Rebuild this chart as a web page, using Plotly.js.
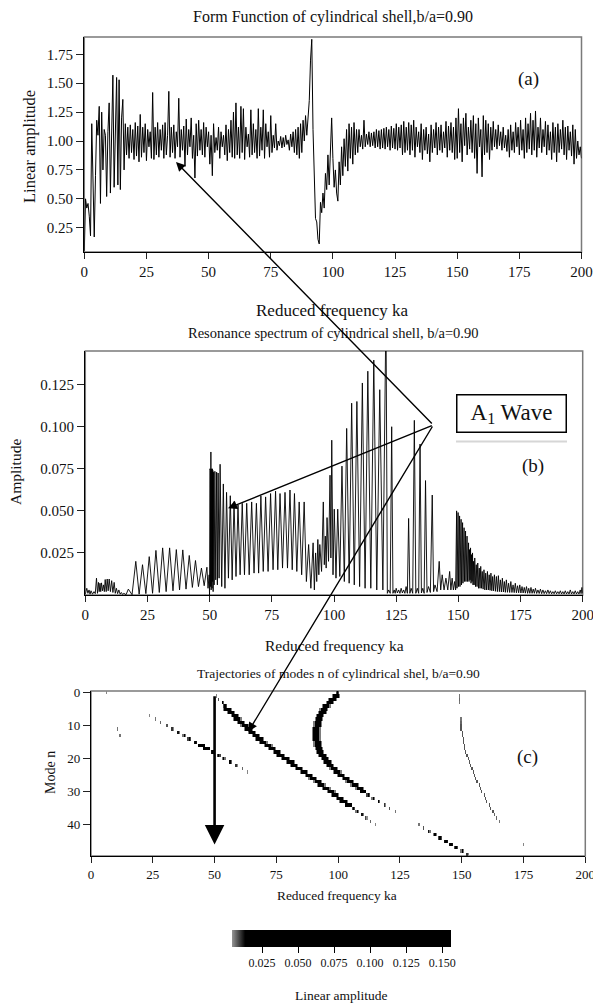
<!DOCTYPE html>
<html><head><meta charset="utf-8">
<script src="https://cdn.plot.ly/plotly-3.0.1.min.js"></script>
<style>html,body{margin:0;padding:0;background:#fff}#chart{width:593px;height:1003px}</style>
</head><body><div id="chart"></div>
<script>
// ---------- Panel (a): form function, sampled every 0.5 ka from 0 to 200 ----------
const formStep = 0.5;
const formAmp = [
0.05,0.50,0.42,0.46,0.35,0.18,1.15,0.55,0.17,0.70,1.18,1.05,1.30,0.46,1.25,0.75,1.10,1.05,0.52,1.08,
1.33,0.55,1.05,1.57,0.60,1.12,1.55,0.62,1.53,0.58,1.20,1.36,0.75,1.15,0.88,1.12,0.85,1.14,0.90,1.10,
0.84,1.16,0.87,1.13,0.82,1.23,0.86,1.12,0.90,1.15,0.83,1.10,0.95,1.08,0.85,1.42,0.84,1.12,0.88,1.16,
0.86,1.10,0.92,1.14,0.85,1.16,0.88,1.05,1.43,0.86,1.12,0.90,1.14,0.85,1.08,0.95,1.37,0.86,1.10,0.92,
1.13,0.78,1.19,0.88,1.10,0.95,1.20,0.85,1.05,0.68,1.15,0.87,1.18,0.92,1.10,0.88,1.16,0.86,1.12,0.95,
1.08,0.80,1.05,0.70,1.15,0.90,1.03,0.92,1.12,0.85,1.08,0.95,1.05,0.88,1.14,0.83,1.10,0.90,1.18,0.86,
1.25,0.85,1.33,0.88,1.12,0.85,1.30,0.90,1.28,0.84,1.12,0.95,1.06,0.86,1.27,0.88,1.15,0.90,1.10,0.85,
1.28,0.87,1.12,0.92,1.27,0.85,1.15,0.95,1.08,0.86,1.22,0.90,1.05,0.94,1.15,0.92,1.00,0.96,1.04,0.94,
1.03,0.95,1.05,0.97,1.01,0.92,1.06,0.95,1.08,0.90,1.10,0.88,1.12,0.85,1.15,0.90,1.18,1.00,1.22,1.05,
1.25,1.35,1.70,1.88,1.10,0.55,0.33,0.30,0.15,0.11,0.47,0.38,0.55,0.42,0.72,0.58,0.88,0.62,0.98,1.20,
0.85,0.60,0.75,0.55,0.48,0.82,0.62,0.95,0.70,1.02,0.78,1.10,0.74,1.15,0.85,1.12,0.80,1.16,0.88,1.10,
0.90,1.10,0.95,1.05,0.93,1.18,0.95,1.06,0.97,1.08,0.95,1.07,0.96,1.08,0.94,1.10,0.95,1.09,0.93,1.10,
0.94,1.11,0.93,1.12,0.95,1.10,0.92,1.13,0.94,1.11,0.93,1.15,0.92,1.12,0.94,1.14,0.88,1.17,0.90,1.12,
0.92,1.16,0.88,1.14,0.92,1.18,0.86,1.12,0.95,1.08,0.90,1.15,0.84,1.10,0.92,1.12,0.89,1.06,0.82,1.14,
0.90,1.10,0.94,1.16,0.88,1.12,0.92,1.14,0.90,1.08,0.94,1.17,0.86,1.13,0.92,1.16,0.90,1.12,0.84,1.20,
0.85,1.28,0.90,1.15,0.82,1.20,0.96,1.24,0.88,1.12,0.93,1.18,0.90,1.22,0.85,1.15,0.72,1.20,0.95,1.10,
0.69,1.22,0.88,1.18,0.90,1.15,0.84,1.12,0.92,1.17,0.95,1.10,0.93,1.14,0.96,1.08,0.92,1.12,0.94,1.05,
0.91,1.10,0.86,1.14,0.92,1.08,0.90,1.16,0.95,1.12,0.88,1.18,0.92,1.10,0.85,1.20,0.90,1.15,0.93,1.24,
0.88,1.18,0.92,1.26,0.86,1.12,0.94,1.20,0.90,1.10,0.95,1.17,0.88,1.14,0.92,1.08,0.84,1.16,0.90,1.12,
0.82,1.15,0.90,1.10,0.93,1.18,0.88,1.12,0.84,1.13,0.92,1.08,0.87,1.14,0.80,1.10,0.85,1.00,0.88,0.95,
0.85
];

// ---------- Panel (b): resonance spectrum peaks ----------
const specPeakKa = [
0.6,1.5,2.3,3.5,4.5,5.3,5.9,6.5,7.3,8.0,8.8,9.6,10.6,11.6,12.5,13.5,14.5,15.5,17.3,
20.3,23.0,25.7,28.4,31.1,33.9,36.6,39.2,41.8,44.3,46.7,48.9,
49.8,50.1,50.3,50.5,50.7,50.9,51.1,51.3,51.5,
52.1,52.8,53.4,54.2,55.5,56.8,58.3,59.8,61.4,63.1,64.9,66.9,68.8,70.6,72.5,74.5,76.5,78.3,80.3,82.3,84.1,86.0,88.0,
89.8,91.6,92.6,93.5,94.3,95.7,96.5,97.2,98.4,99.1,100.1,101.5,103.2,105.1,107.1,109.2,111.4,113.6,116.0,118.4,120.9,
122.0,123.2,124.2,125.0,126.0,127.0,128.0,129.0,130.0,131.0,132.3,133.5,134.6,135.7,136.8,138.0,139.5,140.6,142.3,143.5,145.0,146.5,147.5,
148.5,149.3,149.6,149.9,150.2,150.5,150.8,151.1,151.4,151.7,152.0,152.3,152.6,152.9,153.2,153.5,153.8,154.1,154.5,154.9,155.3,155.7,156.1,156.6,
157.2,157.8,158.4,159.0,159.6,160.3,161.0,161.7,162.4,163.1,163.8,164.5,165.3,166.1,166.9,167.7,168.5,169.3,170.2,171.1,172.0,172.9,173.8,174.7,
175.6,176.5,177.4,178.3,179.2,180.1,181,182,183,184,185,186,187,188,189,190,191,192,193,194,195,196,197,198,199,199.7
];
const specPeakAmp = [
0.004,0.003,0.0025,0.002,0.0100,0.0075,0.0070,0.0072,0.0060,0.0092,0.0095,0.0095,0.0085,0.0075,0.004,0.003,0.0015,0.001,0.0035,
0.020,0.018,0.0228,0.0265,0.028,0.028,0.027,0.0268,0.0235,0.0205,0.016,0.0165,
0.012,0.075,0.074,0.085,0.075,0.074,0.075,0.074,0.073,
0.0735,0.073,0.0725,0.0777,0.066,0.061,0.059,0.0555,0.0535,0.0545,0.0545,0.0553,0.0545,0.0589,0.0583,0.0603,0.0617,0.0603,0.061,0.0624,0.0603,0.0553,0.0553,
0.030,0.031,0.025,0.033,0.030,0.0553,0.035,0.046,0.0712,0.092,0.051,0.051,0.0766,0.099,0.114,0.115,0.126,0.133,0.1396,0.122,0.17,
0.003,0.100,0.003,0.004,0.003,0.004,0.003,0.005,0.0455,0.004,0.1038,0.004,0.0897,0.004,0.068,0.005,0.0594,0.006,0.020,0.012,0.010,0.014,0.010,
0.008,0.050,0.046,0.049,0.044,0.047,0.043,0.045,0.041,0.043,0.039,0.040,0.036,0.038,0.033,0.035,0.030,0.031,0.027,0.028,0.024,0.025,0.020,0.022,
0.018,0.019,0.016,0.017,0.014,0.015,0.013,0.014,0.012,0.013,0.011,0.012,0.011,0.0115,0.009,0.010,0.008,0.009,0.007,0.008,0.006,0.007,0.0055,0.006,
0.005,0.0045,0.005,0.004,0.0045,0.0035,0.004,0.003,0.0035,0.003,0.0025,0.003,0.0025,0.002,0.0025,0.002,0.0025,0.002,0.0025,0.002,0.003,0.002,0.0025,0.002,0.003,0.0045
];
const specValleyAmp = [
0.001,0.0005,0.0005,0.0008,0.001,0.002,0.002,0.0025,0.002,0.002,0.0025,0.002,0.0015,0.001,0.0008,0.0005,0.0003,0.0002,0.0002,
0.0005,0.0008,0.001,0.0015,0.002,0.0025,0.003,0.0035,0.0045,0.005,0.0055,0.004,
0.000,0.002,0.005,0.003,0.006,0.004,0.008,0.002,0.006,
0.009,0.006,0.010,0.005,0.004,0.010,0.009,0.011,0.012,0.012,0.012,0.013,0.013,0.014,0.014,0.015,0.015,0.016,0.016,0.015,0.014,0.012,0.008,
0.004,0.003,0.008,0.012,0.014,0.018,0.016,0.020,0.022,0.012,0.010,0.011,0.008,0.007,0.006,0.005,0.004,0.004,0.003,0.003,0.001,
0.001,0.001,0.001,0.0012,0.001,0.0012,0.001,0.001,0.001,0.001,0.001,0.001,0.0012,0.001,0.0015,0.0015,0.002,0.002,0.003,0.003,0.003,0.003,0.003,
0.003,0.004,0.006,0.005,0.008,0.005,0.009,0.006,0.010,0.007,0.010,0.008,0.011,0.008,0.011,0.008,0.010,0.008,0.009,0.007,0.008,0.006,0.006,0.005,
0.005,0.004,0.004,0.004,0.0035,0.003,0.003,0.003,0.0028,0.0025,0.0025,0.0022,0.002,0.002,0.0018,0.0018,0.0016,0.0016,0.0015,0.0015,0.0014,0.0013,0.0013,0.0012,
0.0012,0.0011,0.001,0.001,0.001,0.001,0.0009,0.0009,0.0008,0.0008,0.0008,0.0008,0.0007,0.0007,0.0007,0.0007,0.0006,0.0006,0.0006,0.0006,0.0006,0.0006,0.0006,0.0006,0.0008,0.001
];

// ---------- Panel (c): mode trajectories (mode n -> ka, level) ----------
const a1Modes = [1,2,3,4,5,6,7,8,9,10,11,12,13,14,15,16,17,18,19,20,21,22,23,24,25,26,27,28,29,30,31,32,33,34,35,36,37,38,39,40];
const a1Ka = [50.7,51.8,53.0,54.2,55.4,56.7,58.0,59.3,60.7,62.1,63.5,65.0,66.6,68.2,69.9,71.6,73.3,75.1,76.9,78.7,80.5,82.4,84.3,86.1,88.0,89.8,91.6,93.4,95.2,97.0,98.8,100.6,102.4,104.2,106.0,107.8,109.6,111.4,113.2,115.0];
const a1Level = [0.005,0.008,0.015,0.03,0.1,0.1,0.1,0.1,0.1,0.1,0.1,0.1,0.1,0.1,0.1,0.1,0.1,0.1,0.1,0.1,0.1,0.1,0.1,0.1,0.1,0.1,0.1,0.1,0.1,0.1,0.1,0.1,0.1,0.05,0.03,0.02,0.012,0.009,0.007,0.005];

const cModes = [0,1,2,3,4,5,6,7,8,9,10,11,12,13,14,15,16,17,18,19,20,21,22,23,24,25,26,27,28,29,30,31,32,33,34,35,36];
const cKa = [99.8,99.0,97.8,96.5,95.3,94.3,93.5,92.8,92.3,91.9,91.6,91.4,91.3,91.3,91.4,91.6,91.9,92.3,92.9,93.6,94.5,95.6,96.9,98.3,99.8,101.3,103.0,104.8,106.6,108.5,110.4,112.3,114.3,116.3,118.5,120.8,123.2];
const cLevel = [0.03,0.1,0.1,0.1,0.1,0.1,0.1,0.1,0.1,0.1,0.1,0.1,0.1,0.1,0.1,0.1,0.1,0.1,0.1,0.1,0.1,0.1,0.1,0.1,0.1,0.1,0.1,0.1,0.1,0.1,0.05,0.03,0.02,0.015,0.01,0.008,0.006];

const dashModes = [7,8,9,10,11,12,13,14,15,16,17,18,19,20,21,22,23,24];
const dashKa = [23.5,26.0,28.2,30.5,32.8,35.2,37.5,39.8,42.1,44.5,46.8,49.1,51.5,53.8,56.2,58.6,61.0,63.4];
const dashLevel = [0.005,0.006,0.007,0.008,0.010,0.012,0.020,0.030,0.040,0.050,0.050,0.040,0.030,0.020,0.015,0.010,0.007,0.005];

const lowModes = [40,41,42,43,44,45,46,47,48,49];
const lowKa = [132.5,134.7,136.9,139.1,141.3,143.5,145.7,147.9,150.1,152.3];
const lowLevel = [0.006,0.008,0.012,0.020,0.030,0.040,0.040,0.030,0.020,0.010];

const thinModes = [1,2,3,8,9,10,11,12,13,14,15,16,17,18,19,20,21,22,23,24,25,26,27,28,29,30,31,32,33,34,35,36,37,38,39];
const thinKa = [149.3,149.3,149.3,149.5,149.6,149.7,149.9,150.1,150.3,150.5,150.8,151.1,151.4,151.8,152.2,152.6,153.1,153.6,154.1,154.6,155.2,155.8,156.4,157.0,157.6,158.3,159.0,159.7,160.4,161.1,161.8,162.6,163.4,164.3,165.2];
const thinLevel = [0.006,0.007,0.006,0.006,0.007,0.008,0.008,0.008,0.008,0.008,0.008,0.008,0.008,0.008,0.008,0.008,0.008,0.008,0.008,0.008,0.008,0.008,0.008,0.008,0.008,0.008,0.008,0.008,0.008,0.008,0.008,0.008,0.007,0.007,0.006];

const isoModes = [0,11,13,46];
const isoKa = [6.3,10.6,11.9,175.2];
const isoLevel = [0.005,0.006,0.006,0.005];

const kaTicks = [0,25,50,75,100,125,150,175,200];
const cbarTicks = [0.025,0.050,0.075,0.100,0.125,0.150];

// ---------- build traces ----------
const formKa = formAmp.map((_, i) => i * formStep);

const specX = [0], specY = [0.0005];
for (let i = 0; i < specPeakKa.length; i++) {
  specX.push(specPeakKa[i]); specY.push(specPeakAmp[i]);
  const nx = (i < specPeakKa.length - 1) ? (specPeakKa[i] + specPeakKa[i+1]) / 2 : 200;
  specX.push(nx); specY.push(specValleyAmp[i]);
}

const cellW = 0.5, nCols = 400, nRows = 50;
const hx = Array.from({length: nCols}, (_, i) => (i + 0.5) * cellW);
const hy = Array.from({length: nRows}, (_, i) => i);
const hz = hy.map(() => new Array(nCols).fill(null));
function paint(modes, kas, levels, thick) {
  modes.forEach((n, k) => {
    const c = Math.round(kas[k] / cellW - 0.5);
    const lv = levels[k];
    let offs;
    if (thick && lv >= 0.05) offs = [[-3,0.055],[-2,0.3],[-1,0.8],[0,1],[1,0.8],[2,0.3],[3,0.055]];
    else if (thick && lv >= 0.02) offs = [[-1,0.3],[0,1],[1,0.3]];
    else if (thick) offs = [[0,1],[1,0.5]];
    else offs = [[0,1]];
    offs.forEach(([o, w]) => {
      const cc = c + o;
      if (cc < 0 || cc >= nCols || n < 0 || n >= nRows) return;
      const v = lv * w;
      if (v < 0.0045) return;
      hz[n][cc] = Math.max(hz[n][cc] || 0, v);
    });
  });
}
paint(a1Modes, a1Ka, a1Level, true);
paint(cModes, cKa, cLevel, true);
paint(dashModes, dashKa, dashLevel, true);
paint(lowModes, lowKa, lowLevel, true);
paint(thinModes, thinKa, thinLevel, false);
paint(isoModes, isoKa, isoLevel, false);

const FONT = 'Liberation Serif, Times New Roman, serif';
const W = 593, H = 1003;
const px = v => v / W, py = v => 1 - v / H;

const traces = [
  {x: formKa, y: formAmp, type: 'scatter', mode: 'lines', line: {color: '#000', width: 1.0}, xaxis: 'x', yaxis: 'y', hoverinfo: 'skip'},
  {x: specX, y: specY, type: 'scatter', mode: 'lines', line: {color: '#000', width: 0.9}, xaxis: 'x2', yaxis: 'y2', hoverinfo: 'skip'},
  {x: hx, y: hy, z: hz, type: 'heatmap', xaxis: 'x3', yaxis: 'y3', zmin: 0.004, zmax: 0.156,
   colorscale: [[0, 'rgb(150,150,150)'], [0.06, 'rgb(0,0,0)'], [1, 'rgb(0,0,0)']],
   hoverinfo: 'skip', xgap: 0, ygap: 0,
   colorbar: {orientation: 'h', x: px(341.3), xanchor: 'center', y: py(930), yanchor: 'top',
     len: 219 / W, lenmode: 'fraction', thickness: 17, outlinewidth: 0, xpad: 0, ypad: 0,
     ticks: 'outside', ticklen: 6, tickcolor: '#000', tickvals: cbarTicks,
     ticktext: cbarTicks.map(v => v.toFixed(3)), tickfont: {size: 12, family: FONT, color: '#111'}}}
];

function xa(dom, anchor, fs) {
  return {domain: dom, anchor: anchor, range: [0, 200], tickvals: kaTicks, ticks: 'outside', ticklen: 6,
    tickcolor: '#222', showline: true, linecolor: '#000', linewidth: 1.2, showgrid: false, zeroline: false,
    ticklabeloverflow: 'allow',
    tickfont: {size: fs, family: FONT, color: '#111'}, fixedrange: true};
}
function ya(dom, anchor, range, tv, fmt, fs) {
  return {domain: dom, anchor: anchor, range: range, tickvals: tv, ticktext: tv.map(fmt), ticks: 'outside', ticklen: 7,
    tickcolor: '#222', showline: true, linecolor: '#000', linewidth: 1.2, showgrid: false, zeroline: false,
    ticklabeloverflow: 'allow',
    tickfont: {size: fs, family: FONT, color: '#111'}, fixedrange: true};
}

const frame = (xr, yr) => ({type: 'rect', xref: xr + ' domain', yref: yr + ' domain', x0: 0, x1: 1, y0: 0, y1: 1,
  line: {color: '#7a7a7a', width: 1.5}, layer: 'below'});

const ann = (t, x, y, size, extra) => Object.assign({text: t, xref: 'paper', yref: 'paper', x: px(x), y: py(y),
  xanchor: 'center', yanchor: 'middle', showarrow: false, font: {size: size, family: FONT, color: '#111'}}, extra || {});

const ox = 433.3, oy = 425;
const arrowTo = (hxp, hyp) => ({text: '', xref: 'paper', yref: 'paper', x: px(hxp), y: py(hyp),
  axref: 'pixel', ayref: 'pixel', ax: ox - hxp, ay: oy - hyp, showarrow: true,
  arrowhead: 2, arrowsize: 1.3, arrowwidth: 1.4, arrowcolor: '#000', standoff: 0, startstandoff: 0});

const layout = {
  width: W, height: H, margin: {l: 0, r: 0, t: 0, b: 0, autoexpand: false},
  paper_bgcolor: '#fff', plot_bgcolor: '#fff', showlegend: false,
  font: {family: FONT, color: '#111'},
  xaxis: xa([px(84.3), px(581.5)], 'y', 15),
  yaxis: ya([py(252), py(37)], 'x', [0.04, 1.9], [0.25, 0.5, 0.75, 1.0, 1.25, 1.5, 1.75], v => v.toFixed(2), 15),
  xaxis2: xa([px(85.3), px(582.7)], 'y2', 15),
  yaxis2: ya([py(595), py(351)], 'x2', [0, 0.145], [0.025, 0.05, 0.075, 0.1, 0.125], v => v.toFixed(3), 15),
  xaxis3: xa([px(91), px(585.3)], 'y3', 13),
  yaxis3: ya([py(856), py(691)], 'x3', [49.5, -0.5], [0, 10, 20, 30, 40], v => String(v), 13),
  shapes: [frame('x', 'y'), frame('x2', 'y2'), frame('x3', 'y3'),
    {type: 'line', xref: 'paper', yref: 'paper', x0: px(456), x1: px(567), y0: py(441.5), y1: py(441.5),
     line: {color: '#d6d6d6', width: 2}}],
  annotations: [
    ann('Form Function of cylindrical shell,b/a=0.90', 333, 17, 16),
    ann('Resonance spectrum of cylindrical shell, b/a=0.90', 333.3, 333, 14.5),
    ann('Trajectories of modes n of cylindrical shel, b/a=0.90', 338, 673, 13.5),
    ann('Reduced frequency ka', 332, 310, 17),
    ann('Reduced frequency ka', 334, 645, 15.5),
    ann('Reduced frequency ka', 337, 895, 13.4),
    ann('Linear amplitude', 341, 995, 13.5),
    ann('Linear amplitude', 30, 147, 16.5, {textangle: -90}),
    ann('Amplitude', 15, 472, 15.5, {textangle: -90}),
    ann('Mode n', 50, 773, 14, {textangle: -90}),
    ann('(a)', 528, 79, 19),
    ann('(b)', 533, 466, 19),
    ann('(c)', 527, 757, 19),
    ann('A<sub>1</sub> Wave', 511.2, 413.8, 23, {bordercolor: '#000', borderwidth: 1.5, borderpad: 2, width: 104, height: 32, bgcolor: 'rgba(255,255,255,0)'}),
    arrowTo(176, 162),
    arrowTo(228, 508.3),
    arrowTo(248.3, 731.7),
    {text: '', xref: 'x3', yref: 'y3', x: 50, y: 46, axref: 'x3', ayref: 'y3', ax: 50, ay: 0.6,
     showarrow: true, arrowhead: 2, arrowsize: 1.5, arrowwidth: 2.6, arrowcolor: '#000', standoff: 0}
  ]
};

Plotly.newPlot('chart', traces, layout, {staticPlot: true, displayModeBar: false});
</script></body></html>
